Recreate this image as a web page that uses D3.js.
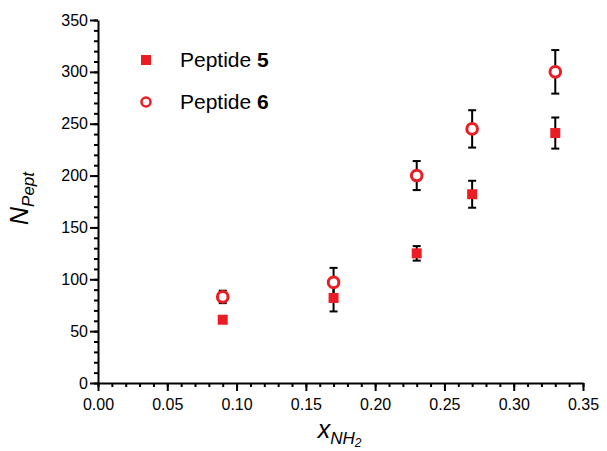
<!DOCTYPE html>
<meta charset="utf-8">
<script src="https://d3js.org/d3.v7.min.js"></script>
<style>
    body { margin: 0; background: #fff; }
    text { font-family: "Liberation Sans", Arial, sans-serif; fill: #000; }
</style>
<svg id="chart" width="607" height="451"></svg>
<script>
    // data
    var xValues = [0.09, 0.17, 0.23, 0.27, 0.33];
    var pept5 = [61, 82, 125, 182, 241];
    var pept5Err = [3, 13, 7, 13, 15];
    var pept6 = [83, 97, 200, 245, 300];
    var pept6Err = [6, 14, 14, 18, 21];
    var xTicks = [0, 0.05, 0.10, 0.15, 0.20, 0.25, 0.30, 0.35];
    var yTicks = [0, 50, 100, 150, 200, 250, 300, 350];

    var margin = { top: 20, right: 24, bottom: 68, left: 98 },
        width = 607 - margin.left - margin.right,
        height = 451 - margin.top - margin.bottom;

    var svg = d3.select("#chart")
        .append("g")
        .attr("transform", "translate(" + margin.left + "," + margin.top + ")");

    var x = d3.scaleLinear().domain([0, 0.35]).range([0, width]);
    var y = d3.scaleLinear().domain([0, 350]).range([height, 0]);

    // minor ticks
    svg.append("g")
        .attr("transform", "translate(0," + height + ")")
        .call(d3.axisBottom(x).tickValues(d3.range(0, 36).map(d => d / 100)).tickSize(4).tickFormat(""))
        .call(g => g.select(".domain").remove())
        .selectAll("line").attr("stroke-width", 2);
    svg.append("g")
        .call(d3.axisLeft(y).tickValues(d3.range(0, 351, 10)).tickSize(4).tickFormat(""))
        .call(g => g.select(".domain").remove())
        .selectAll("line").attr("stroke-width", 2);

    // main axes
    var xAxis = svg.append("g")
        .attr("transform", "translate(0," + height + ")")
        .call(d3.axisBottom(x).tickValues(xTicks).tickSize(8).tickSizeOuter(0).tickPadding(8)
            .tickFormat(d3.format(".2f")));
    var yAxis = svg.append("g")
        .call(d3.axisLeft(y).tickValues(yTicks).tickSize(8).tickSizeOuter(0).tickPadding(2));

    [xAxis, yAxis].forEach(function(a) {
        a.select(".domain").attr("stroke-width", 2);
        a.selectAll("line").attr("stroke-width", 2);
        a.selectAll("text").style("font-size", "16px").attr("fill", "#000");
    });

    var red = "#ec1c24";

    // error bars
    function errorBars(vals, errs) {
        var g = svg.append("g").attr("stroke", "#000").attr("stroke-width", 2);
        xValues.forEach(function(xv, i) {
            var cx = x(xv), top = y(vals[i] + errs[i]), bot = y(vals[i] - errs[i]);
            g.append("line").attr("x1", cx).attr("x2", cx).attr("y1", top).attr("y2", bot);
            g.append("line").attr("x1", cx - 4).attr("x2", cx + 4).attr("y1", top).attr("y2", top);
            g.append("line").attr("x1", cx - 4).attr("x2", cx + 4).attr("y1", bot).attr("y2", bot);
        });
    }
    errorBars(pept5, pept5Err);
    errorBars(pept6, pept6Err);

    // squares - Peptide 5
    svg.append("g").selectAll("rect")
        .data(pept5)
        .enter().append("rect")
        .attr("x", (d, i) => x(xValues[i]) - 5)
        .attr("y", d => y(d) - 5)
        .attr("width", 10)
        .attr("height", 10)
        .attr("fill", red);

    // circles - Peptide 6
    svg.append("g").selectAll("circle")
        .data(pept6)
        .enter().append("circle")
        .attr("cx", (d, i) => x(xValues[i]))
        .attr("cy", d => y(d))
        .attr("r", 5.3)
        .attr("fill", "#fff")
        .attr("stroke", red)
        .attr("stroke-width", 3);

    // legend
    var legend = svg.append("g").attr("transform", "translate(48,40)");
    legend.append("rect").attr("x", -5).attr("y", -5).attr("width", 10).attr("height", 10).attr("fill", red);
    legend.append("circle").attr("cx", 0).attr("cy", 42).attr("r", 4.5)
        .attr("fill", "#fff").attr("stroke", red).attr("stroke-width", 2.5);
    var t5 = legend.append("text").attr("x", 34).attr("y", 7).style("font-size", "21px");
    t5.append("tspan").text("Peptide ");
    t5.append("tspan").style("font-weight", "bold").text("5");
    var t6 = legend.append("text").attr("x", 34).attr("y", 49).style("font-size", "21px");
    t6.append("tspan").text("Peptide ");
    t6.append("tspan").style("font-weight", "bold").text("6");

    // axis titles
    var yl = svg.append("text")
        .attr("transform", "translate(-70," + (height / 2 - 3) + ") rotate(-90)")
        .attr("text-anchor", "middle")
        .style("font-size", "25px")
        .style("font-style", "italic");
    yl.append("tspan").text("N");
    yl.append("tspan").attr("dy", 6).style("font-size", "17px").text("Pept");

    var xl = svg.append("text")
        .attr("x", width / 2 - 1)
        .attr("y", height + 55)
        .attr("text-anchor", "middle")
        .style("font-size", "25px")
        .style("font-style", "italic");
    xl.append("tspan").text("x");
    xl.append("tspan").attr("dy", 6).style("font-size", "17px").text("NH");
    xl.append("tspan").attr("dy", 3).style("font-size", "12px").text("2");
</script>
